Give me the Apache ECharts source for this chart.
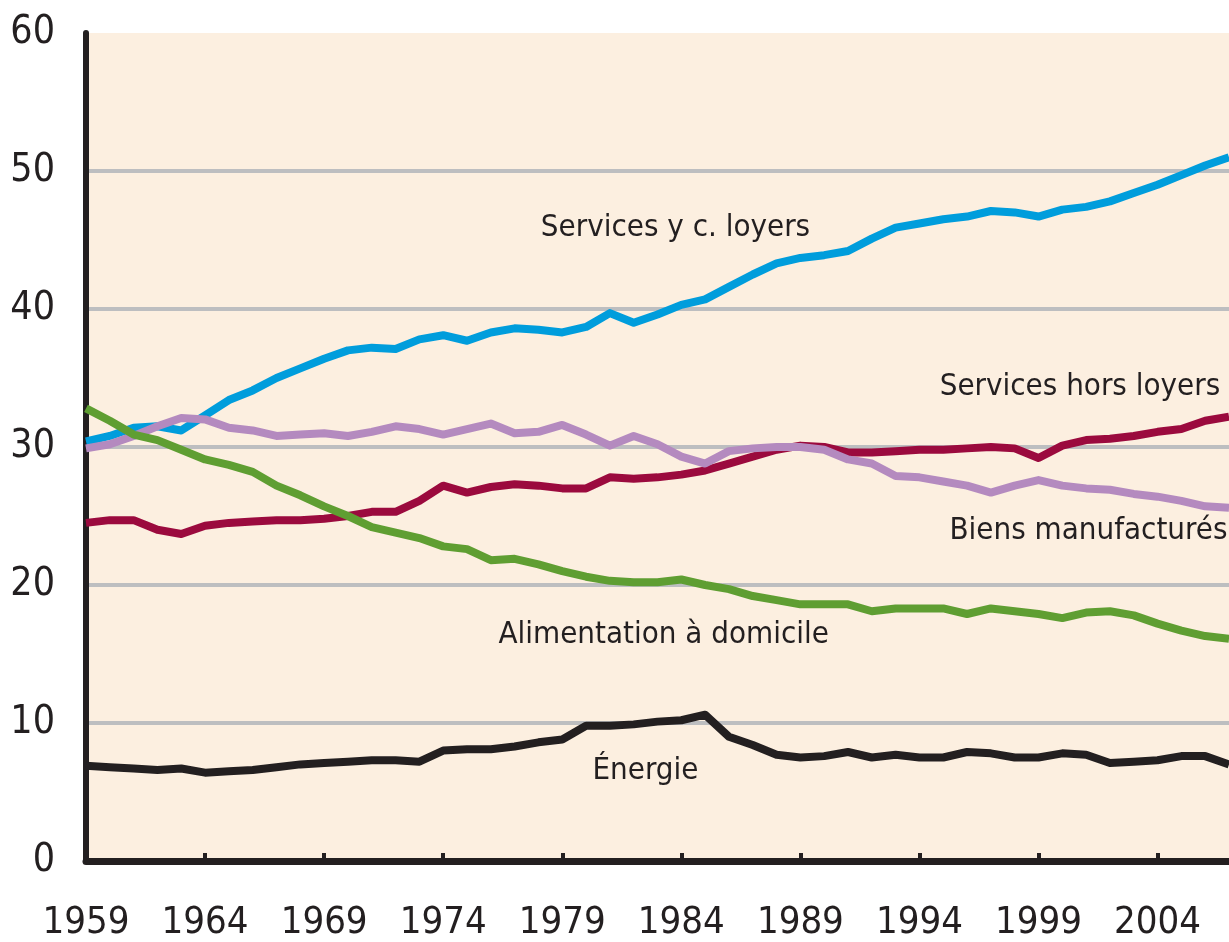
<!DOCTYPE html>
<html lang="fr">
<head>
    <meta charset="UTF-8" />
    <title>Parts de consommation</title>
    <style>
        body { margin: 0; background: #fff; overflow: hidden; }
    </style>
</head>
<body>
<div id="main" style="width: 1229px; height: 942px;"></div>
<script src="https://cdn.jsdelivr.net/npm/echarts@6/dist/echarts.min.js"></script>
<script type="text/javascript">
    // annees 1959 -> 2007
    var years = [];
    for (var y = 1959; y <= 2007; y++) years.push(y);

    var servicesLoyers = [30.4, 30.8, 31.4, 31.5, 31.2, 32.3, 33.4, 34.1, 35.0, 35.7,
        36.4, 37.0, 37.2, 37.1, 37.8, 38.1, 37.7, 38.3, 38.6, 38.5,
        38.3, 38.7, 39.7, 39.0, 39.6, 40.3, 40.7, 41.6, 42.5, 43.3,
        43.7, 43.9, 44.2, 45.1, 45.9, 46.2, 46.5, 46.7, 47.1, 47.0,
        46.7, 47.2, 47.4, 47.8, 48.4, 49.0, 49.7, 50.4, 51.0];

    var servicesHorsLoyers = [24.5, 24.7, 24.7, 24.0, 23.7, 24.3, 24.5, 24.6, 24.7, 24.7,
        24.8, 25.0, 25.3, 25.3, 26.1, 27.2, 26.7, 27.1, 27.3, 27.2,
        27.0, 27.0, 27.8, 27.7, 27.8, 28.0, 28.3, 28.8, 29.3, 29.8,
        30.1, 30.0, 29.6, 29.6, 29.7, 29.8, 29.8, 29.9, 30.0, 29.9,
        29.2, 30.1, 30.5, 30.6, 30.8, 31.1, 31.3, 31.9, 32.2];

    var biensManufactures = [29.9, 30.2, 30.8, 31.5, 32.1, 32.0, 31.4, 31.2, 30.8, 30.9,
        31.0, 30.8, 31.1, 31.5, 31.3, 30.9, 31.3, 31.7, 31.0, 31.1,
        31.6, 30.9, 30.1, 30.8, 30.2, 29.3, 28.8, 29.7, 29.9, 30.0,
        30.0, 29.8, 29.1, 28.8, 27.9, 27.8, 27.5, 27.2, 26.7, 27.2,
        27.6, 27.2, 27.0, 26.9, 26.6, 26.4, 26.1, 25.7, 25.6];

    var alimentation = [32.8, 31.9, 30.9, 30.5, 29.8, 29.1, 28.7, 28.2, 27.2, 26.5,
        25.7, 25.0, 24.2, 23.8, 23.4, 22.8, 22.6, 21.8, 21.9, 21.5,
        21.0, 20.6, 20.3, 20.2, 20.2, 20.4, 20.0, 19.7, 19.2, 18.9,
        18.6, 18.6, 18.6, 18.1, 18.3, 18.3, 18.3, 17.9, 18.3, 18.1,
        17.9, 17.6, 18.0, 18.1, 17.8, 17.2, 16.7, 16.3, 16.1];

    var energie = [6.9, 6.8, 6.7, 6.6, 6.7, 6.4, 6.5, 6.6, 6.8, 7.0,
        7.1, 7.2, 7.3, 7.3, 7.2, 8.0, 8.1, 8.1, 8.3, 8.6,
        8.8, 9.8, 9.8, 9.9, 10.1, 10.2, 10.6, 9.0, 8.4, 7.7,
        7.5, 7.6, 7.9, 7.5, 7.7, 7.5, 7.5, 7.9, 7.8, 7.5,
        7.5, 7.8, 7.7, 7.1, 7.2, 7.3, 7.6, 7.6, 7.0];

    var seriesNames = ['Services hors loyers', 'Services y c. loyers', 'Biens manufacturés',
        'Alimentation à domicile', 'Énergie'];
    var seriesData = [servicesHorsLoyers, servicesLoyers, biensManufactures, alimentation, energie];
    var seriesColors = ['#9B0A3E', '#009DDC', '#B48ABF', '#5F9E32', '#231F20'];

    // ancre (annee, valeur) de chaque etiquette de courbe
    var labelAnchors = [[1994.85, 34.35], [1978.1, 45.9], [1995.26, 23.9], [1976.32, 16.4], [1980.27, 6.5]];

    var font = "'DejaVu Sans Condensed', 'Liberation Sans Narrow', sans-serif";
    var ink = '#231F20';

    var myChart = echarts.init(document.getElementById('main'));

    var series = [];
    for (var i = 0; i < seriesNames.length; i++) {
        var pts = [];
        for (var j = 0; j < years.length; j++) pts.push([years[j], seriesData[i][j]]);
        series.push({
            name: seriesNames[i],
            type: 'line',
            data: pts,
            showSymbol: false,
            silent: true,
            lineStyle: { width: 8, color: seriesColors[i], join: 'round' },
            markPoint: {
                symbol: 'circle',
                symbolSize: 0,
                silent: true,
                data: [{ coord: labelAnchors[i] }],
                label: {
                    show: true,
                    position: 'right',
                    distance: 0,
                    formatter: seriesNames[i],
                    fontFamily: font,
                    fontSize: 31,
                    color: ink
                }
            }
        });
    }

    var option = {
        animation: false,
        backgroundColor: '#ffffff',
        grid: {
            left: 86,
            right: -10,
            top: 33,
            bottom: 81,
            show: true,
            backgroundColor: '#FCEFE0',
            borderWidth: 0
        },
        xAxis: {
            type: 'value',
            min: 1959,
            max: 2007,
            interval: 5,
            axisLine: { show: true, lineStyle: { color: ink, width: 7 } },
            axisTick: { show: true, inside: true, length: 8, lineStyle: { color: ink, width: 4 } },
            splitLine: { show: false },
            axisLabel: {
                showMaxLabel: false,
                margin: 43,
                fontFamily: font,
                fontSize: 38,
                color: ink,
                formatter: function (v) { return String(v); }
            }
        },
        yAxis: {
            type: 'value',
            min: 0,
            max: 60,
            interval: 10,
            axisLine: { show: true, lineStyle: { color: ink, width: 6 } },
            axisTick: { show: false },
            splitLine: { show: true, showMaxLine: false, lineStyle: { color: '#BDBEC0', width: 4 } },
            axisLabel: {
                margin: 31,
                fontFamily: font,
                fontSize: 39,
                color: ink,
                padding: [0, 0, 10, 0]
            }
        },
        series: series
    };

    myChart.setOption(option);
</script>
</body>
</html>
